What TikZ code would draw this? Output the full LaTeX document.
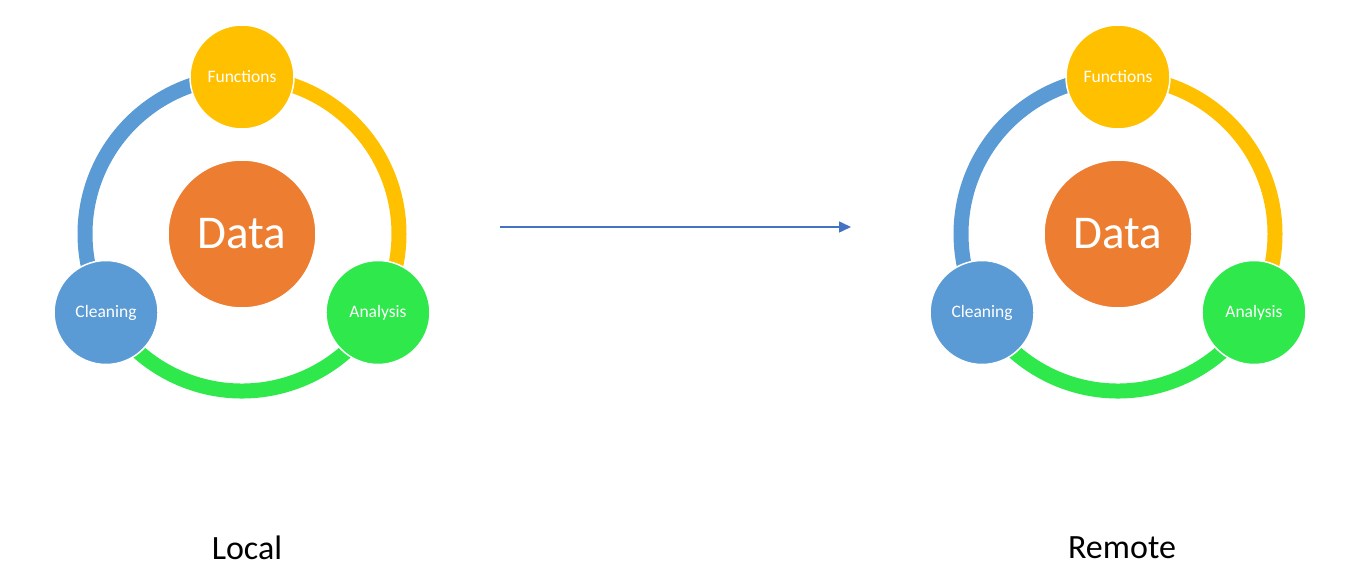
\documentclass[tikz,border=0pt]{standalone}
\usepackage{fontspec}
\setmainfont{Carlito}
\usetikzlibrary{arrows.meta,backgrounds}
\definecolor{cfun}{HTML}{FFC000}
\definecolor{cdata}{HTML}{ED7D31}
\definecolor{ccle}{HTML}{5B9BD5}
\definecolor{cana}{HTML}{2FE84B}
\definecolor{carrow}{HTML}{4472C4}
\begin{document}
\begin{tikzpicture}[x=1pt,y=1pt,
  small/.style={circle, draw=white, line width=1.5pt, minimum size=104pt, inner sep=0pt, text=white, font=\fontsize{17.5}{20}\selectfont},
  big/.style={circle, fill=cdata, draw=white, line width=1.5pt, minimum size=148pt, inner sep=0pt, text=white, font=\fontsize{47}{52}\selectfont},
  ring/.style={line width=15pt},
  label/.style={text=black, font=\fontsize{34}{40}\selectfont},
  conn/.style={draw=carrow, line width=1.5pt, -{Triangle[length=12pt,width=11pt]}}]
\useasboundingbox (0,0) rectangle (1360,587);
\foreach \cx/\p/\lab/\lx in {242/L/Local/247, 1118/R/Remote/1122}{
  \node[big] (\p data) at (\cx,353) {Data};
  \node[small, fill=cfun] (\p fun) at (\cx,510) {Functions};
  \node[small, fill=ccle] (\p cle) at ({\cx+157*cos(210)},{353+157*sin(210)}) {Cleaning};
  \node[small, fill=cana] (\p ana) at ({\cx+157*cos(-30)},{353+157*sin(-30)}) {Analysis};
  \node[label] (\p lab) at (\lx,39) {\lab};
  \begin{scope}[on background layer]
    \draw[ring, ccle] (\p fun.center) arc[start angle=90, end angle=210, radius=157];
    \draw[ring, cfun] (\p fun.center) arc[start angle=90, end angle=-30, radius=157];
    \draw[ring, cana] (\p ana.center) arc[start angle=-30, end angle=-150, radius=157];
  \end{scope}
}
\coordinate (a0) at (500,360);
\coordinate (a1) at (851,360);
\draw[conn] (a0) -- (a1);
\end{tikzpicture}
\end{document}
